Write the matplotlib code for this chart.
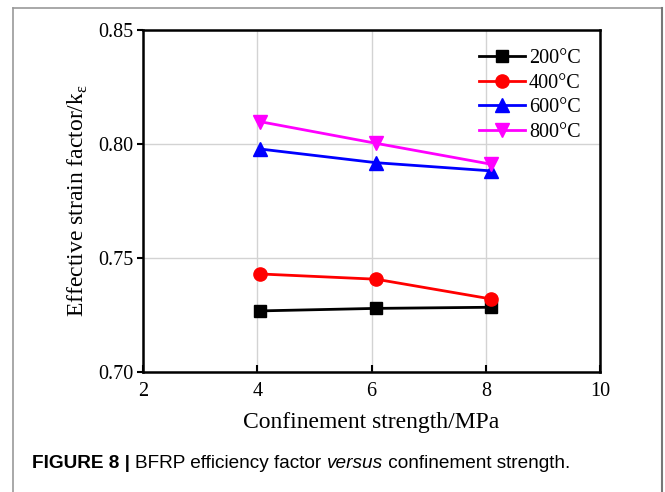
import numpy as np
import matplotlib
matplotlib.use('Agg')
import matplotlib.pyplot as plt
from matplotlib.lines import Line2D

# confinement strength (MPa) and effective strain factor per temperature
x_vals = [4.05, 6.08, 8.1]
k_200 = [0.7268, 0.7279, 0.7284]
k_400 = [0.7430, 0.7407, 0.7320]
k_600 = [0.7978, 0.7918, 0.7882]
k_800 = [0.8098, 0.8003, 0.7911]
labels = ['200°C', '400°C', '600°C', '800°C']

fig = plt.figure(figsize=(6.65, 4.92), dpi=100)
fig.patch.set_facecolor('white')

# outer frame of the figure panel
fig.add_artist(Line2D([13/665, 13/665], [0, 1 - 8/492], transform=fig.transFigure, color='#999999', lw=1.2))
fig.add_artist(Line2D([13/665, 662/665], [1 - 8/492, 1 - 8/492], transform=fig.transFigure, color='#999999', lw=1.2))
fig.add_artist(Line2D([662/665, 662/665], [0, 1 - 8/492], transform=fig.transFigure, color='#777777', lw=1.5))

ax = fig.add_axes([143/665, 120/492, 457/665, 342/492])
serif = 'Liberation Serif'

ax.plot(x_vals, k_200, color='black', marker='s', ms=8.5, lw=2, label=labels[0])
ax.plot(x_vals, k_400, color='red', marker='o', ms=9.5, lw=2, label=labels[1])
ax.plot(x_vals, k_600, color='blue', marker='^', ms=9.5, lw=2, label=labels[2])
ax.plot(x_vals, k_800, color='magenta', marker='v', ms=9.5, lw=2, label=labels[3])

ax.set_xlim(2, 10)
ax.set_ylim(0.70, 0.85)
ax.set_xticks([2, 4, 6, 8, 10])
ax.set_yticks([0.70, 0.75, 0.80, 0.85])
ax.set_yticklabels(['0.70', '0.75', '0.80', '0.85'])
ax.grid(True, color='#d3d3d3', lw=1)
ax.set_axisbelow(True)
for s in ax.spines.values():
    s.set_linewidth(1.8)
ax.tick_params(axis='x', direction='in', length=5, width=1.5, labelsize=14.5, pad=7)
ax.tick_params(axis='y', direction='out', length=4, width=1.5, labelsize=14.5, pad=3)
for t in ax.get_xticklabels() + ax.get_yticklabels():
    t.set_fontfamily(serif)

ax.set_xlabel('Confinement strength/MPa', fontfamily=serif, fontsize=17, labelpad=8)
ax.set_ylabel(r'Effective strain factor/k$_{\mathregular{\varepsilon}}$', fontfamily=serif, fontsize=17, labelpad=6)

leg = ax.legend(loc='upper right', frameon=False, prop={'family': serif, 'size': 14.5},
                handlelength=2.3, handletextpad=0.2, labelspacing=0.27,
                borderaxespad=0.6, borderpad=0.35)

# caption with mixed styles
fig.canvas.draw()
r = fig.canvas.get_renderer()
cy = 1 - 463/492
cx = 32/665
parts = [('FIGURE 8 | ', 'bold', 'normal'), ('BFRP efficiency factor ', 'normal', 'normal'),
         ('versus', 'normal', 'italic'), (' confinement strength.', 'normal', 'normal')]
for txt, w, st in parts:
    t = fig.text(cx, cy, txt, fontfamily='Liberation Sans', fontsize=13.7, fontweight=w,
                 fontstyle=st, va='center', ha='left')
    bb = t.get_window_extent(renderer=r)
    cx += bb.width / fig.bbox.width

fig.savefig('out.png', dpi=100)
